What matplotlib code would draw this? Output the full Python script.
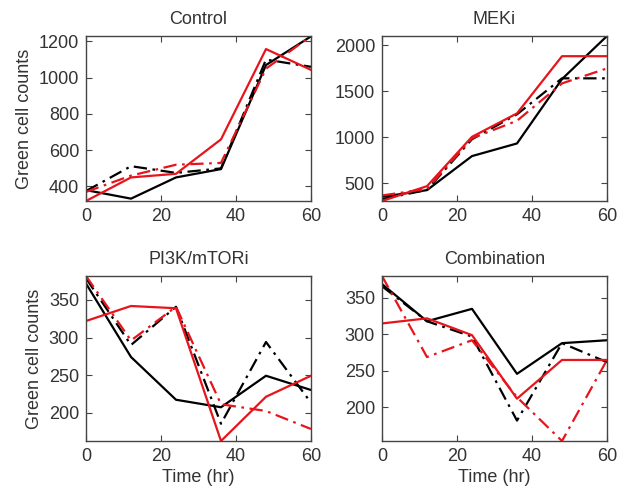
import numpy as np
import matplotlib
matplotlib.use("Agg")
import matplotlib.pyplot as plt

# time points (hr)
t = [0, 12, 24, 36, 48, 60]

titles = ["Control", "MEKi", "PI3K/mTORi", "Combination"]

# black solid, black dash-dot, red solid, red dash-dot for each panel
control_k = [380, 333, 450, 496, 1070, 1228]
control_kd = [375, 512, 475, 500, 1100, 1060]
control_r = [320, 450, 470, 660, 1158, 1043]
control_rd = [370, 460, 520, 530, 1050, 1230]

meki_k = [355, 428, 797, 934, 1632, 2099]
meki_kd = [330, 430, 980, 1250, 1640, 1640]
meki_r = [310, 471, 1006, 1260, 1880, 1880]
meki_rd = [370, 440, 990, 1180, 1585, 1748]

pi3k_k = [372, 274, 217, 207, 249, 230]
pi3k_kd = [379, 290, 341, 185, 294, 213]
pi3k_r = [322, 342, 339, 162, 221, 249]
pi3k_rd = [382, 296, 341, 211, 202, 178]

combo_k = [369, 318, 335, 246, 288, 292]
combo_kd = [366, 318, 297, 182, 288, 262]
combo_r = [315, 322, 299, 212, 265, 265]
combo_rd = [380, 269, 292, 214, 154, 265]

panels = [
    (control_k, control_kd, control_r, control_rd, [400, 600, 800, 1000, 1200]),
    (meki_k, meki_kd, meki_r, meki_rd, [500, 1000, 1500, 2000]),
    (pi3k_k, pi3k_kd, pi3k_r, pi3k_rd, [200, 250, 300, 350]),
    (combo_k, combo_kd, combo_r, combo_rd, [200, 250, 300, 350]),
]

plt.rcParams["font.family"] = "Liberation Sans"
plt.rcParams["font.size"] = 13

fig = plt.figure(figsize=(6.26, 4.88), dpi=100)
W, H = 626, 488
boxes = [(86, 36), (382, 36), (86, 276), (382, 276)]
txt = "#333333"
red = "#e8141c"
dashdot = (0, (6, 2.5, 1.2, 2.5))

for i, (k, kd, r, rd, yt) in enumerate(panels):
    x0, y0 = boxes[i]
    ax = fig.add_axes([x0 / W, 1 - (y0 + 165) / H, 225 / W, 165 / H])
    ax.plot(t, k, color="black", lw=1.6, ls="-")
    ax.plot(t, kd, color="black", lw=1.6, ls=dashdot)
    ax.plot(t, r, color=red, lw=1.6, ls="-")
    ax.plot(t, rd, color=red, lw=1.6, ls=dashdot)
    allv = k + kd + r + rd
    ax.set_xlim(0, 60)
    ax.set_ylim(min(allv), max(allv))
    ax.set_xticks([0, 20, 40, 60])
    ax.set_yticks(yt)
    ax.tick_params(direction="in", top=True, right=True, length=4,
                   colors="#444444", labelcolor=txt, labelsize=13, pad=5)
    for s in ax.spines.values():
        s.set_color("#444444")
        s.set_linewidth(1.0)
    ax.set_title(titles[i], fontsize=13, color=txt, pad=9)
    if i % 2 == 0:
        ax.set_ylabel("Green cell counts", fontsize=13, color=txt, labelpad=4)
    if i >= 2:
        ax.set_xlabel("Time (hr)", fontsize=13, color=txt, labelpad=3)

fig.savefig("out.png", dpi=100)
